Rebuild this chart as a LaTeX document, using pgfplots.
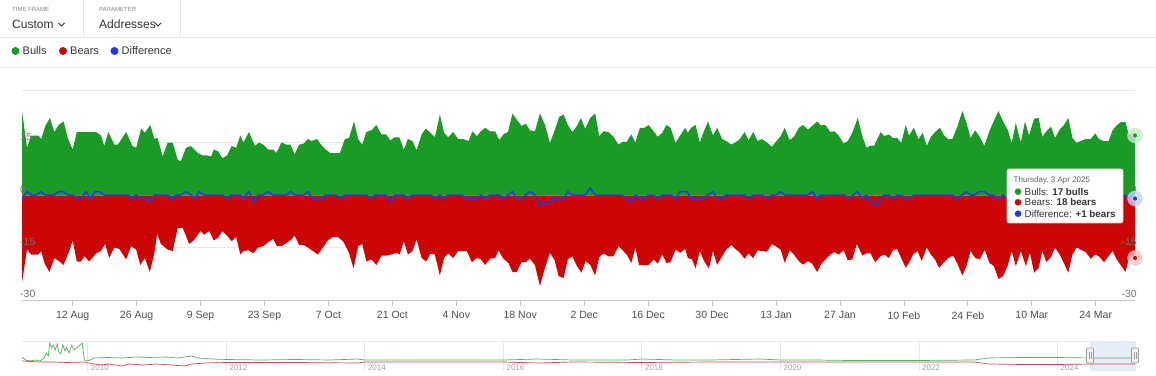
\documentclass[border=0pt]{standalone}
\usepackage{fontspec}
\setmainfont{Liberation Sans}
\usepackage{pgfplots}
\pgfplotsset{compat=1.18}
\definecolor{bull}{RGB}{26,155,38}
\definecolor{bear}{RGB}{204,6,6}
\definecolor{diffc}{RGB}{20,60,250}
\definecolor{gridc}{RGB}{232,232,232}
\definecolor{labc}{RGB}{115,115,115}
\definecolor{xlabc}{RGB}{80,80,80}
\definecolor{txt}{RGB}{51,51,51}
\definecolor{axc}{RGB}{190,195,205}
\definecolor{zline}{RGB}{180,110,25}
\definecolor{navsel}{RGB}{230,237,249}
\definecolor{yrc}{RGB}{160,160,160}
\definecolor{smallc}{RGB}{135,135,135}
\definecolor{hfill}{RGB}{242,242,242}
\definecolor{hdraw}{RGB}{153,153,153}
\definecolor{tipbd}{RGB}{215,215,215}
\definecolor{tiptitle}{RGB}{100,100,100}
\definecolor{bullhalo}{RGB}{200,232,203}
\definecolor{bearhalo}{RGB}{244,196,196}
\definecolor{diffhalo}{RGB}{199,210,254}
\tikzset{ylab/.style={inner sep=0, yshift=2pt, font=\fontsize{10.5}{12}\selectfont, text=labc},
  yrlab/.style={anchor=base west, inner sep=0, xshift=3pt, yshift=1pt, font=\fontsize{8}{9}\selectfont, text=yrc}}

\begin{document}
\begin{tikzpicture}[x=1pt,y=1pt]
\useasboundingbox (0,0) rectangle (1156,375);
\fill[white] (0,0) rectangle (1156,375);
% ---- header ----
\draw[gridc, line width=0.8pt] (83,375)--(83,338);
\draw[gridc, line width=0.8pt] (180,375)--(180,338);
\draw[gridc, line width=0.8pt] (0,337.5)--(1156,337.5);
\draw[gridc, line width=0.8pt] (0,308)--(1156,308);
\node[anchor=west, inner sep=0, font=\fontsize{6}{7}\selectfont, text=smallc] at (12,366) {TIME FRAME};
\node[anchor=west, inner sep=0, font=\fontsize{12}{14}\selectfont, text=txt] at (12,351) {Custom};
\draw[txt, line width=1pt] (58.5,352)--(61.5,349)--(64.5,352);
\node[anchor=west, inner sep=0, font=\fontsize{6}{7}\selectfont, text=smallc] at (99,366) {PARAMETER};
\node[anchor=west, inner sep=0, font=\fontsize{12}{14}\selectfont, text=txt] at (99,351) {Addresses};
\draw[txt, line width=1pt] (155,352)--(158,349)--(161,352);
% legend
\fill[bull] (15.5,324) circle (4);
\node[anchor=west, inner sep=0, font=\fontsize{11}{13}\selectfont, text=txt] at (22.5,324) {Bulls};
\fill[bear] (63,324) circle (4);
\node[anchor=west, inner sep=0, font=\fontsize{11}{13}\selectfont, text=txt] at (70,324) {Bears};
\fill[diffc] (114.5,324) circle (4);
\node[anchor=west, inner sep=0, font=\fontsize{11}{13}\selectfont, text=txt] at (121.5,324) {Difference};

% ---- main chart ----
\begin{axis}[at={(22pt,75pt)}, anchor=south west, scale only axis,
  width=1113pt, height=210pt,
  xmin=-11.1, xmax=232.6, ymin=-30, ymax=30,
  clip=false,
  axis x line*=bottom, axis y line*=left,
  x axis line style={-, draw=axc, line width=0.8pt},
  y axis line style={draw=none},
  ytick={-30,-15,0,15,30}, yticklabels={}, ytick style={draw=none},
  ymajorgrids, grid style={gridc, line width=0.8pt},
  xtick={0,14,28,42,56,70,84,98,112,126,140,154,168,182,196,210,224},
  xticklabels={12 Aug,26 Aug,9 Sep,23 Sep,7 Oct,21 Oct,4 Nov,18 Nov,2 Dec,16 Dec,30 Dec,13 Jan,27 Jan,10 Feb,24 Feb,10 Mar,24 Mar},
  xtick align=outside, major tick length=6pt,
  xtick style={draw=axc, line width=0.8pt},
  xticklabel style={font=\fontsize{10.5}{12}\selectfont, text=xlabc, yshift=-2pt},
]
\addplot[draw=none, fill=bull] coordinates {
(-11.1,24) (-10.0,13.5) (-9.1,17) (-7.5,17) (-6.9,16) (-6.0,19.7) (-5.0,22) (-4.0,18) (-3.1,20) (-2.0,21) (-1.0,16) (0.0,13) (0.9,18) (5.1,18) (6.2,17) (6.9,14) (7.8,18) (9.1,14.4) (9.9,14.4) (11.7,18) (13.1,14) (13.9,13.5) (15.0,19) (15.8,17.8) (17.0,20) (17.9,16) (18.6,16.3) (19.7,11) (20.8,15) (21.9,15) (23.0,10) (23.7,9.7) (24.8,13.5) (25.9,14) (27.4,12) (28.5,11.3) (29.5,11.3) (30.3,11) (30.9,13) (31.8,12.5) (32.8,10.5) (33.8,11.3) (34.8,14) (35.8,13.5) (36.7,17) (37.4,15) (38.6,18) (39.9,14) (40.8,15) (41.7,14.4) (42.8,13) (43.9,13) (44.6,12) (45.7,15) (46.8,14.4) (47.7,14.4) (48.6,11.6) (49.6,14.4) (50.6,14.7) (51.5,16) (52.3,15.4) (53.5,16) (54.5,14.2) (55.4,13) (56.4,12) (58.5,12) (59.6,16) (60.5,16.3) (61.6,21) (62.5,16) (63.4,14.4) (64.3,18) (65.4,18.5) (66.5,20) (67.6,17.3) (68.6,17.3) (69.6,15.6) (70.5,16.5) (71.5,16.5) (72.5,13) (73.4,16) (74.4,15.4) (75.3,12.8) (76.4,17.3) (77.3,19) (78.3,17.8) (79.3,16.5) (80.4,23) (81.3,17.8) (82.2,16.5) (83.3,18) (84.4,16) (85.5,16) (86.1,15.7) (86.7,15.4) (87.5,18.2) (88.5,16.8) (89.2,18) (90.3,19.2) (91.4,18.2) (92.5,18.2) (93.4,15.7) (94.3,17.3) (95.3,18) (96.3,23.3) (97.2,21.6) (98.3,19.7) (99.2,20.4) (100.1,18.5) (101.2,18.2) (102.3,23.3) (103.4,20) (104.5,14.9) (105.6,18.7) (106.5,22.3) (107.5,23) (108.4,20) (109.4,18) (110.4,19.7) (111.3,22) (112.2,18.9) (113.3,22) (114.4,23.3) (115.3,16.8) (116.2,18.2) (117.3,18) (118.4,16.6) (119.5,14.4) (120.4,15.2) (121.3,15.2) (122.3,17.3) (123.2,15) (124.2,19.2) (125.2,19.2) (126.1,20) (127.2,18.2) (128.1,16.6) (129.1,17.8) (130.0,20) (130.9,19.2) (132.0,14.9) (132.9,16.8) (134.1,19.2) (134.7,17.8) (135.4,19.2) (136.4,20) (137.3,15) (138.2,18.2) (139.1,21) (140.2,17) (141.1,19.2) (142.2,16) (143.1,15.4) (144.2,14.4) (145.1,15) (146.1,16) (147.1,18) (148.0,15.7) (149.0,18) (150.0,15.4) (150.9,16) (152.0,15) (153.1,13.8) (154.1,15.4) (155.0,16.8) (155.9,19.2) (157.0,15.7) (157.9,16.6) (159.0,19.2) (159.9,20) (161.0,18.7) (161.9,19.7) (163.0,21) (163.8,19.9) (164.8,20) (165.9,18) (166.8,18.2) (167.7,17) (168.8,14.7) (169.7,15.4) (170.7,17.8) (171.9,22) (172.9,16.8) (173.8,13.5) (174.7,14.1) (175.5,14.1) (176.9,18) (177.7,16.8) (178.7,17.3) (179.6,16.3) (180.5,16.3) (181.4,14.9) (182.4,20) (183.1,17) (184.2,19.2) (185.2,15.9) (186.1,17.8) (187.0,14) (187.9,16.6) (189.0,18.2) (189.9,19.2) (190.8,17) (191.7,15.9) (192.6,16) (193.7,19.5) (194.8,24) (195.7,20.6) (196.6,16.3) (197.6,18.5) (198.6,16.6) (199.6,14) (200.7,18.2) (201.5,20.6) (202.7,24) (203.7,21) (204.7,18.7) (205.6,14.9) (206.5,20.6) (207.6,15) (208.5,21) (209.4,17) (210.5,21.8) (211.5,22) (212.3,16.6) (213.2,18.2) (214.2,19.5) (215.1,16.3) (216.1,18.7) (217.0,19.9) (218.0,22) (218.9,16.3) (219.8,14.9) (220.7,15.4) (221.8,16) (222.9,16) (223.9,17.6) (224.7,16) (225.8,15.4) (226.8,15.4) (227.7,18.5) (228.6,19.9) (229.5,20.8) (230.5,20.8) (231.2,17.3) (231.9,17.3) (232.6,17)
} \closedcycle;
\addplot[draw=none, fill=bear] coordinates {
(-11.1,-25) (-10.0,-15.6) (-9.1,-17) (-7.5,-17) (-6.9,-16) (-6.2,-19.4) (-5.1,-22) (-4.0,-18) (-2.9,-19) (-2.0,-20) (-0.9,-16.5) (0.0,-13) (0.9,-19) (1.8,-19) (2.6,-17.5) (3.6,-19) (5.1,-16.7) (6.2,-16) (7.1,-14) (8.0,-18) (9.1,-15) (10.2,-15.4) (11.7,-18.4) (12.8,-14.6) (13.9,-15.6) (14.8,-20) (15.8,-18) (16.9,-22) (17.9,-16.5) (18.5,-11) (19.3,-14) (20.8,-15.6) (21.9,-16) (23.0,-9.4) (24.1,-9.4) (25.5,-14) (26.5,-13) (28.0,-10.3) (28.8,-11.3) (29.9,-10.3) (30.9,-13) (31.8,-12.2) (32.8,-10.3) (33.8,-11.6) (34.8,-13.2) (35.8,-12) (36.7,-17) (37.4,-16) (38.6,-15.8) (39.5,-16.7) (40.6,-15) (41.7,-14.6) (42.8,-13.5) (43.9,-12.5) (44.7,-14.6) (45.7,-14.6) (46.8,-13.7) (47.9,-12.7) (48.6,-11.6) (49.6,-14.3) (50.6,-14.3) (51.5,-15) (52.6,-16) (53.7,-17) (54.8,-15) (55.9,-12.9) (57.0,-12) (58.0,-12) (59.2,-13.2) (60.5,-16.5) (61.5,-21) (62.5,-14.6) (63.4,-14) (64.3,-19) (65.4,-18.4) (66.5,-20) (67.6,-17.3) (68.7,-17.3) (69.8,-17) (70.9,-16.5) (71.6,-17) (72.5,-13.2) (73.4,-17) (74.4,-16) (75.3,-12.7) (76.4,-18) (77.4,-19) (78.3,-16.8) (79.3,-17) (80.4,-23) (81.3,-18) (82.2,-16.7) (83.3,-18) (84.4,-16) (85.5,-16) (86.3,-16) (87.4,-19.2) (88.5,-18) (89.4,-18.4) (90.3,-20) (91.4,-18.2) (92.5,-18) (93.2,-15.8) (94.3,-18.2) (95.4,-19.4) (96.3,-22) (97.2,-22) (98.3,-19.2) (99.2,-19.2) (100.1,-18.2) (101.2,-20) (102.3,-26) (103.4,-20.8) (104.5,-16.5) (105.5,-18.6) (106.4,-23.2) (107.5,-23.7) (108.4,-18.4) (109.4,-17.5) (110.4,-20.3) (111.4,-22.2) (112.3,-18.9) (113.3,-19.9) (114.4,-23) (115.3,-17.7) (116.2,-16.7) (117.3,-17.5) (118.4,-17.5) (119.5,-14.6) (120.4,-15.8) (121.3,-17) (122.3,-19.4) (123.2,-15) (124.0,-20) (125.2,-20) (126.1,-20) (127.2,-18.4) (128.1,-19.6) (129.1,-17) (130.0,-19.4) (130.9,-19.2) (132.0,-15.6) (133.0,-16.5) (134.1,-15.4) (134.7,-18) (135.6,-18.4) (136.4,-21) (137.3,-16) (138.3,-19) (139.3,-21) (140.2,-16) (141.1,-20) (142.2,-17.5) (143.1,-15.6) (144.2,-14.3) (145.1,-15.4) (146.1,-16.5) (147.1,-18.2) (148.0,-16.7) (149.0,-18) (150.0,-15.8) (150.9,-16) (152.0,-16.2) (153.1,-14) (154.1,-14.8) (155.0,-15.6) (155.9,-19.4) (157.0,-15.8) (157.9,-17) (159.0,-18.9) (159.9,-19.9) (161.0,-18.9) (161.9,-19.6) (163.0,-22) (163.8,-19.9) (164.8,-18.4) (165.9,-17) (166.8,-16.3) (167.7,-17) (168.8,-15.8) (169.7,-18.6) (170.7,-18.4) (171.7,-14) (172.9,-17.3) (173.8,-16.7) (174.7,-16.7) (175.7,-19.2) (176.9,-17.5) (177.7,-17) (178.7,-18) (179.6,-15.8) (180.5,-15.4) (181.4,-18) (182.4,-20.8) (183.1,-19.4) (184.0,-17) (185.0,-16) (185.9,-18.9) (187.0,-15) (187.9,-17) (188.8,-18.4) (189.7,-20.8) (190.8,-19.2) (191.7,-18) (192.8,-17.3) (193.7,-19.6) (194.8,-23) (195.7,-20.3) (196.6,-16) (197.6,-18) (198.6,-18.4) (199.7,-15.6) (200.7,-19.4) (201.7,-20.3) (202.7,-24) (203.7,-23.2) (204.7,-20.3) (205.6,-16) (206.5,-20.3) (207.6,-16) (208.7,-20.3) (209.6,-16.5) (210.5,-22.2) (211.5,-20.8) (212.3,-16) (213.2,-19.2) (214.2,-17.7) (215.1,-15) (216.1,-17) (217.0,-19.4) (218.0,-22.2) (218.9,-17) (219.8,-15) (220.7,-15.6) (221.8,-16.3) (222.9,-18.2) (223.9,-17) (224.7,-17.5) (225.8,-19.2) (226.8,-17.5) (227.7,-16) (228.6,-18.4) (229.5,-20.1) (230.5,-22) (231.2,-18.4) (231.9,-17.5) (232.6,-18)
} \closedcycle;
\addplot[zline, line width=0.6pt] coordinates {(-11.1,0) (232.6,0)};
\addplot[diffc, line width=1.5pt, line join=round] coordinates {
(-11.1,-1) (-10.0,1) (-9.1,0) (-7.9,0) (-7.0,1) (-6.0,0) (-4.0,0) (-3.1,1) (-2.0,1) (-1.0,0) (0,0) (0.9,-1) (1.9,-1) (2.9,1) (3.9,-1) (4.9,1) (5.8,1) (6.9,0) (12.1,0) (13.0,-1) (13.9,0) (14.9,-1) (15.9,-1) (17.0,-2) (17.9,0) (20.8,0) (21.7,-1) (22.8,0) (23.7,0) (24.8,1) (25.9,0) (26.8,-1) (27.7,1) (28.8,0) (32.8,0) (33.8,-1) (34.7,0) (36.6,0) (37.4,-1) (38.6,1) (39.6,-2) (40.6,0) (41.7,0) (42.8,1) (43.9,0) (46.8,0) (47.7,1) (48.6,0) (50.6,0) (51.5,1) (52.5,-1) (54.5,-1) (55.4,0) (57.6,0) (58.6,-1) (59.6,0) (64.3,0) (65.2,-1) (66.2,0) (68.6,0) (69.6,-2) (70.5,0) (72.5,0) (73.4,-1) (74.4,0) (78.5,0) (79.4,-1) (80.4,0) (81.3,-1) (82.2,0) (85.2,0) (86.1,-1) (88.5,-1) (89.4,0) (90.3,-1) (91.4,0) (93.4,0) (94.3,-1) (95.4,0) (96.3,1) (97.2,-1) (98.3,-1) (99.2,0) (100.1,1) (101.2,0) (102.3,-3) (103.4,-2) (104.5,-2) (105.5,-1) (107.5,-1) (108.4,1) (109.4,0) (112.2,0) (113.3,2) (114.4,0) (120.2,0) (121.3,-1) (122.3,-2) (123.2,0) (124.2,-1) (125.2,-1) (126.1,0) (127.2,0) (128.1,-1) (129.1,0) (131.0,0) (132.0,-1) (133.0,1) (134.5,1) (135.3,-1) (138.2,-1) (139.1,0) (140.2,1) (141.1,-1) (142.0,-1) (143.1,0) (147.1,0) (148.0,-1) (149.0,0) (151.0,0) (152.0,-1) (153.1,0) (154.1,0) (155.0,1) (155.9,0) (161.0,0) (161.9,1) (163.0,-1) (163.8,0) (169.0,0) (170.0,-1) (170.9,0) (171.8,1) (172.9,-1) (173.8,0) (175.0,-2) (176.0,-3) (176.9,-1) (177.7,0) (178.7,0) (179.6,-1) (180.5,0) (181.4,0) (182.5,-1) (183.2,-1) (184.2,0) (192.6,0) (193.6,-1) (194.7,0) (195.7,1) (196.6,0) (197.5,0) (198.5,1) (199.6,1) (200.6,0) (201.6,0) (202.6,-1) (203.7,0) (204.7,-1) (205.6,0) (230.5,0) (231.2,-1) (231.9,0) (232.6,-1)
};
% hover markers
\addplot[only marks, color=bullhalo, mark=*, mark size=7.5pt, mark options={fill=bullhalo, draw=bullhalo, opacity=0.8}] coordinates {(232.6,17)};
\addplot[only marks, color=bearhalo, mark=*, mark size=7.5pt, mark options={fill=bearhalo, draw=bearhalo, opacity=0.8}] coordinates {(232.6,-18)};
\addplot[only marks, color=diffhalo, mark=*, mark size=7.5pt, mark options={fill=diffhalo, draw=diffhalo, opacity=0.8}] coordinates {(232.6,-1)};
\addplot[only marks, color=bull, mark=*, mark size=2.6pt, mark options={draw=white, line width=0.5pt, fill=bull}] coordinates {(232.6,17)};
\addplot[only marks, color=bear, mark=*, mark size=2.6pt, mark options={draw=white, line width=0.5pt, fill=bear}] coordinates {(232.6,-18)};
\addplot[only marks, color=diffc, mark=*, mark size=2.6pt, mark options={draw=white, line width=0.5pt, fill=diffc}] coordinates {(232.6,-1)};
% y labels (both sides)
\node[ylab, anchor=base west, xshift=-2pt] at (axis cs:-11.1,15) {15};
\node[ylab, anchor=base west, xshift=-2pt] at (axis cs:-11.1,0) {0};
\node[ylab, anchor=base west, xshift=-2pt] at (axis cs:-11.1,-15) {-15};
\node[ylab, anchor=base west, xshift=-2pt] at (axis cs:-11.1,-30) {-30};
\node[ylab, anchor=base east, xshift=2pt] at (axis cs:232.6,15) {15};
\node[ylab, anchor=base east, xshift=2pt] at (axis cs:232.6,0) {0};
\node[ylab, anchor=base east, xshift=2pt] at (axis cs:232.6,-15) {-15};
\node[ylab, anchor=base east, xshift=2pt] at (axis cs:232.6,-30) {-30};
\end{axis}

% ---- navigator ----
\fill[navsel] (1090,4) rectangle (1136,34);
\draw[gridc, line width=0.8pt] (22,34)--(1135,34);
\begin{axis}[at={(22pt,4pt)}, anchor=south west, scale only axis,
  width=1113pt, height=30pt, xmin=2009.05, xmax=2025.12, ymin=0, ymax=30,
  axis lines=none, clip=false]
\draw[gridc, line width=0.8pt] (axis cs:2010,0) -- (axis cs:2010,30);
\draw[gridc, line width=0.8pt] (axis cs:2012,0) -- (axis cs:2012,30);
\draw[gridc, line width=0.8pt] (axis cs:2014,0) -- (axis cs:2014,30);
\draw[gridc, line width=0.8pt] (axis cs:2016,0) -- (axis cs:2016,30);
\draw[gridc, line width=0.8pt] (axis cs:2018,0) -- (axis cs:2018,30);
\draw[gridc, line width=0.8pt] (axis cs:2020,0) -- (axis cs:2020,30);
\draw[gridc, line width=0.8pt] (axis cs:2022,0) -- (axis cs:2022,30);
\draw[gridc, line width=0.8pt] (axis cs:2024,0) -- (axis cs:2024,30);
\node[yrlab] at (axis cs:2010,0) {2010};
\node[yrlab] at (axis cs:2012,0) {2012};
\node[yrlab] at (axis cs:2014,0) {2014};
\node[yrlab] at (axis cs:2016,0) {2016};
\node[yrlab] at (axis cs:2018,0) {2018};
\node[yrlab] at (axis cs:2020,0) {2020};
\node[yrlab] at (axis cs:2022,0) {2022};
\node[yrlab] at (axis cs:2024,0) {2024};
\addplot[bull!75, line width=0.7pt] coordinates {
(2009.05,14) (2009.1,11) (2009.17,10) (2009.25,11) (2009.31,10) (2009.37,13) (2009.40,18) (2009.43,15) (2009.45,28) (2009.48,23) (2009.50,26) (2009.53,21) (2009.56,27) (2009.58,19) (2009.61,17) (2009.64,26) (2009.67,20) (2009.69,24) (2009.73,18) (2009.77,26) (2009.80,21) (2009.82,22) (2009.87,25) (2009.92,28) (2009.95,11) (2010.0,10) (2010.1,13) (2010.3,13.5) (2010.5,13) (2010.7,14) (2010.9,13.5) (2011.1,14) (2011.3,13) (2011.5,15) (2011.6,13) (2011.8,12) (2012.0,11.5) (2012.5,11) (2013,11.5) (2013.5,11) (2013.9,12) (2014,11) (2015,11) (2016,11) (2016.5,12) (2017,11) (2017.8,11) (2018,12) (2018.5,11) (2019,11) (2019.7,12) (2020,11) (2020.5,11) (2021,10.5) (2022,10.5) (2022.8,11) (2023,13) (2023.5,13.5) (2024,13.5) (2024.5,13) (2025.12,13)
};
\addplot[bear!75, line width=0.7pt] coordinates {
(2009.05,10) (2009.3,9) (2009.5,9) (2009.7,8.5) (2009.95,9) (2010.0,8) (2010.2,6) (2010.3,7) (2010.5,5) (2010.6,7) (2010.8,6) (2011.0,7) (2011.2,6) (2011.4,5) (2011.5,7) (2011.7,8) (2012,8.5) (2013,8.5) (2013.9,8) (2014,9) (2015,9) (2016,9) (2016.5,8) (2017,9) (2018,8.5) (2019,9) (2020,9) (2021,9) (2022,9) (2022.8,9) (2023,7) (2023.5,6.5) (2024,6.5) (2024.5,7) (2025.12,7)
};
\end{axis}
% handles
\filldraw[fill=hfill, draw=hdraw, line width=0.6pt, rounded corners=1pt] (1086.5,12) rectangle (1093.5,27);
\draw[hdraw, line width=0.5pt] (1089,16)--(1089,23) (1091,16)--(1091,23);
\filldraw[fill=hfill, draw=hdraw, line width=0.6pt, rounded corners=1pt] (1131.5,12) rectangle (1138.5,27);
\draw[hdraw, line width=0.5pt] (1134,16)--(1134,23) (1136,16)--(1136,23);

% ---- tooltip ----
\fill[black, opacity=0.07] (1009,150) rectangle (1125,204);
\filldraw[fill=white, draw=tipbd, line width=0.6pt, rounded corners=2pt] (1007,152) rectangle (1123,206);
\node[anchor=west, inner sep=0, font=\fontsize{8}{9}\selectfont, text=tiptitle] at (1013.5,194.3) {Thursday, 3 Apr 2025};
\fill[bull] (1018,183.3) circle (3.3);
\node[anchor=west, inner sep=0, font=\fontsize{9.8}{11}\selectfont, text=txt] at (1024.5,183.3) {Bulls: \textbf{17 bulls}};
\fill[bear] (1018,172.7) circle (3.3);
\node[anchor=west, inner sep=0, font=\fontsize{9.8}{11}\selectfont, text=txt] at (1024.5,172.7) {Bears: \textbf{18 bears}};
\fill[diffc] (1018,161.3) circle (3.3);
\node[anchor=west, inner sep=0, font=\fontsize{9.8}{11}\selectfont, text=txt] at (1024.5,161.3) {Difference: \textbf{+1 bears}};
\end{tikzpicture}
\end{document}
